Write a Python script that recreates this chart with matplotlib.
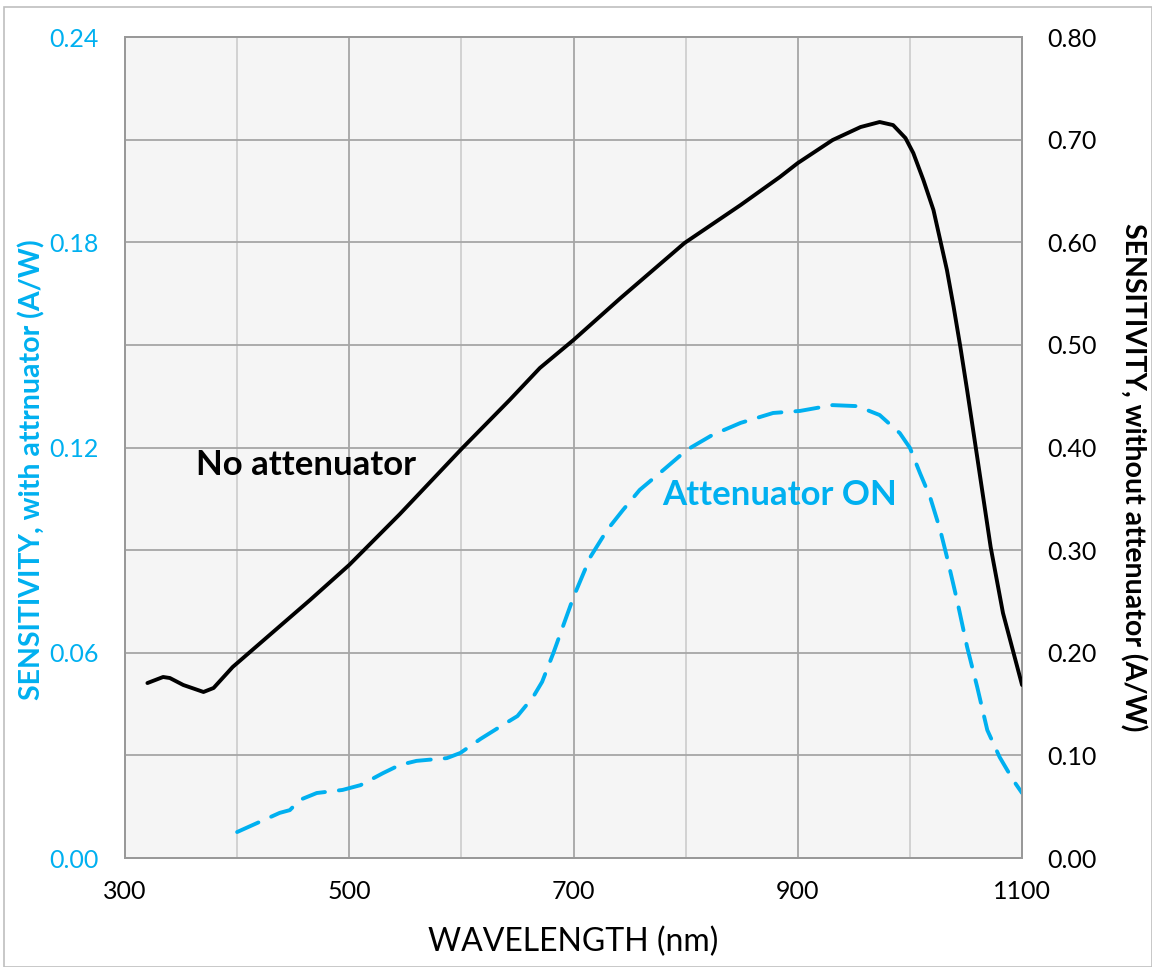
import matplotlib.pyplot as plt
from matplotlib.ticker import MultipleLocator, FixedLocator
from matplotlib.patches import Rectangle

plt.rcParams["font.family"] = ["Lato", "DejaVu Sans"]

BLUE = "#00B0F0"

# Sensitivity without attenuator (right axis, A/W)
wl_no_att = [320, 334, 340, 352, 370, 379, 396, 465, 500, 545, 600, 643, 670,
             700, 742, 799, 849, 884, 900, 931, 956, 973, 985, 996, 1003,
             1012, 1021, 1027, 1033, 1039, 1045, 1051, 1060, 1072, 1083, 1100]
sens_no_att = [0.1705, 0.1764, 0.1754, 0.1686, 0.1618, 0.1657, 0.1861, 0.2514,
               0.2856, 0.3350, 0.3985, 0.4463, 0.4775, 0.5048, 0.5457, 0.5993,
               0.6363, 0.6636, 0.6772, 0.6996, 0.7123, 0.7172, 0.7142, 0.7016,
               0.6870, 0.6607, 0.6314, 0.6022, 0.5730, 0.5369, 0.4979, 0.4560,
               0.3907, 0.3030, 0.2387, 0.1686]

# Sensitivity with attenuator (left axis, A/W)
wl_att = [400, 438, 447, 456, 471, 494, 510, 530, 545, 560, 587, 599, 617,
          637, 650, 664, 672, 682, 700, 715, 730, 744, 759, 780, 801, 824,
          849, 878, 902, 931, 953, 973, 991, 1000, 1009, 1018, 1027, 1033,
          1042, 1051, 1060, 1069, 1080, 1092, 1100]
sens_att = [0.0076, 0.0132, 0.0140, 0.0170, 0.0190, 0.0199, 0.0213, 0.0248,
            0.0272, 0.0284, 0.0292, 0.0307, 0.0348, 0.0389, 0.0415, 0.0471,
            0.0515, 0.0599, 0.0763, 0.0880, 0.0959, 0.1017, 0.1076, 0.1134,
            0.1193, 0.1237, 0.1272, 0.1301, 0.1307, 0.1324, 0.1321, 0.1295,
            0.1242, 0.1199, 0.1125, 0.1055, 0.0959, 0.0880, 0.0754, 0.0617,
            0.0500, 0.0374, 0.0295, 0.0228, 0.0190]

x_ticks = [300, 500, 700, 900, 1100]
left_ticks = [0.00, 0.06, 0.12, 0.18, 0.24]
right_ticks = [0.0, 0.1, 0.2, 0.3, 0.4, 0.5, 0.6, 0.7, 0.8]

fig = plt.figure(figsize=(11.52, 9.67), dpi=100)
ax = fig.add_axes([0.1085, 0.1127, 0.7787, 0.849])
ax2 = ax.twinx()

# background and outer frame
ax.set_facecolor("#F5F5F5")
fig.patches.append(Rectangle((4 / 1152, 0), 1 - 4 / 1152, 1 - 7 / 967,
                             transform=fig.transFigure, fill=False,
                             edgecolor="#BFBFBF", linewidth=1.2))

ax.set_xlim(300, 1100)
ax.set_ylim(0, 0.24)
ax2.set_ylim(0, 0.8)

ax.xaxis.set_major_locator(FixedLocator(x_ticks))
ax.xaxis.set_minor_locator(MultipleLocator(100))
ax.yaxis.set_major_locator(FixedLocator(left_ticks))
ax.yaxis.set_minor_locator(MultipleLocator(0.03))
ax2.yaxis.set_major_locator(FixedLocator(right_ticks))

ax.grid(which="major", axis="both", color="#A6A6A6", linewidth=1.3)
ax.grid(which="minor", axis="y", color="#A6A6A6", linewidth=1.3)
ax.grid(which="minor", axis="x", color="#CFCFCF", linewidth=1.3)
ax.set_axisbelow(True)

ax.plot(wl_att, sens_att, color=BLUE, linewidth=2.8, dashes=(6, 3.6),
        dash_capstyle="round", solid_joinstyle="round", zorder=3)
ax2.plot(wl_no_att, sens_no_att, color="black", linewidth=2.8,
         solid_capstyle="round", solid_joinstyle="round", zorder=3)

for a in (ax, ax2):
    for s in a.spines.values():
        s.set_color("#999999")
        s.set_linewidth(1.3)
    a.tick_params(which="both", length=0)

ax.tick_params(axis="x", labelsize=18, pad=16)
ax.tick_params(axis="y", labelsize=18, pad=19, labelcolor=BLUE)
ax2.tick_params(axis="y", labelsize=18, pad=18)
ax.set_yticklabels([f"{v:.2f}" for v in left_ticks])
ax2.set_yticklabels([f"{v:.2f}" for v in right_ticks])

ax.set_xlabel("WAVELENGTH (nm)", fontsize=23, va="center")
ax.xaxis.set_label_coords(0.5, -0.102)
ax.set_ylabel("SENSITIVITY, with attrnuator (A/W)", fontsize=20.5,
              fontweight="bold", color=BLUE, va="center")
ax.yaxis.set_label_coords(-0.104, 0.473)
ax2.set_ylabel("SENSITIVITY, without attenuator (A/W)", fontsize=20.5,
               fontweight="bold", rotation=270, va="center")
ax2.yaxis.set_label_coords(1.124, 0.464)

ax.text(461, 0.1149, "No attenuator", fontsize=25, fontweight="bold",
        color="black", ha="center", va="center", zorder=4)
ax.text(884, 0.1061, "Attenuator ON", fontsize=25, fontweight="bold",
        color=BLUE, ha="center", va="center", zorder=4)

fig.savefig("out.png", dpi=100)
